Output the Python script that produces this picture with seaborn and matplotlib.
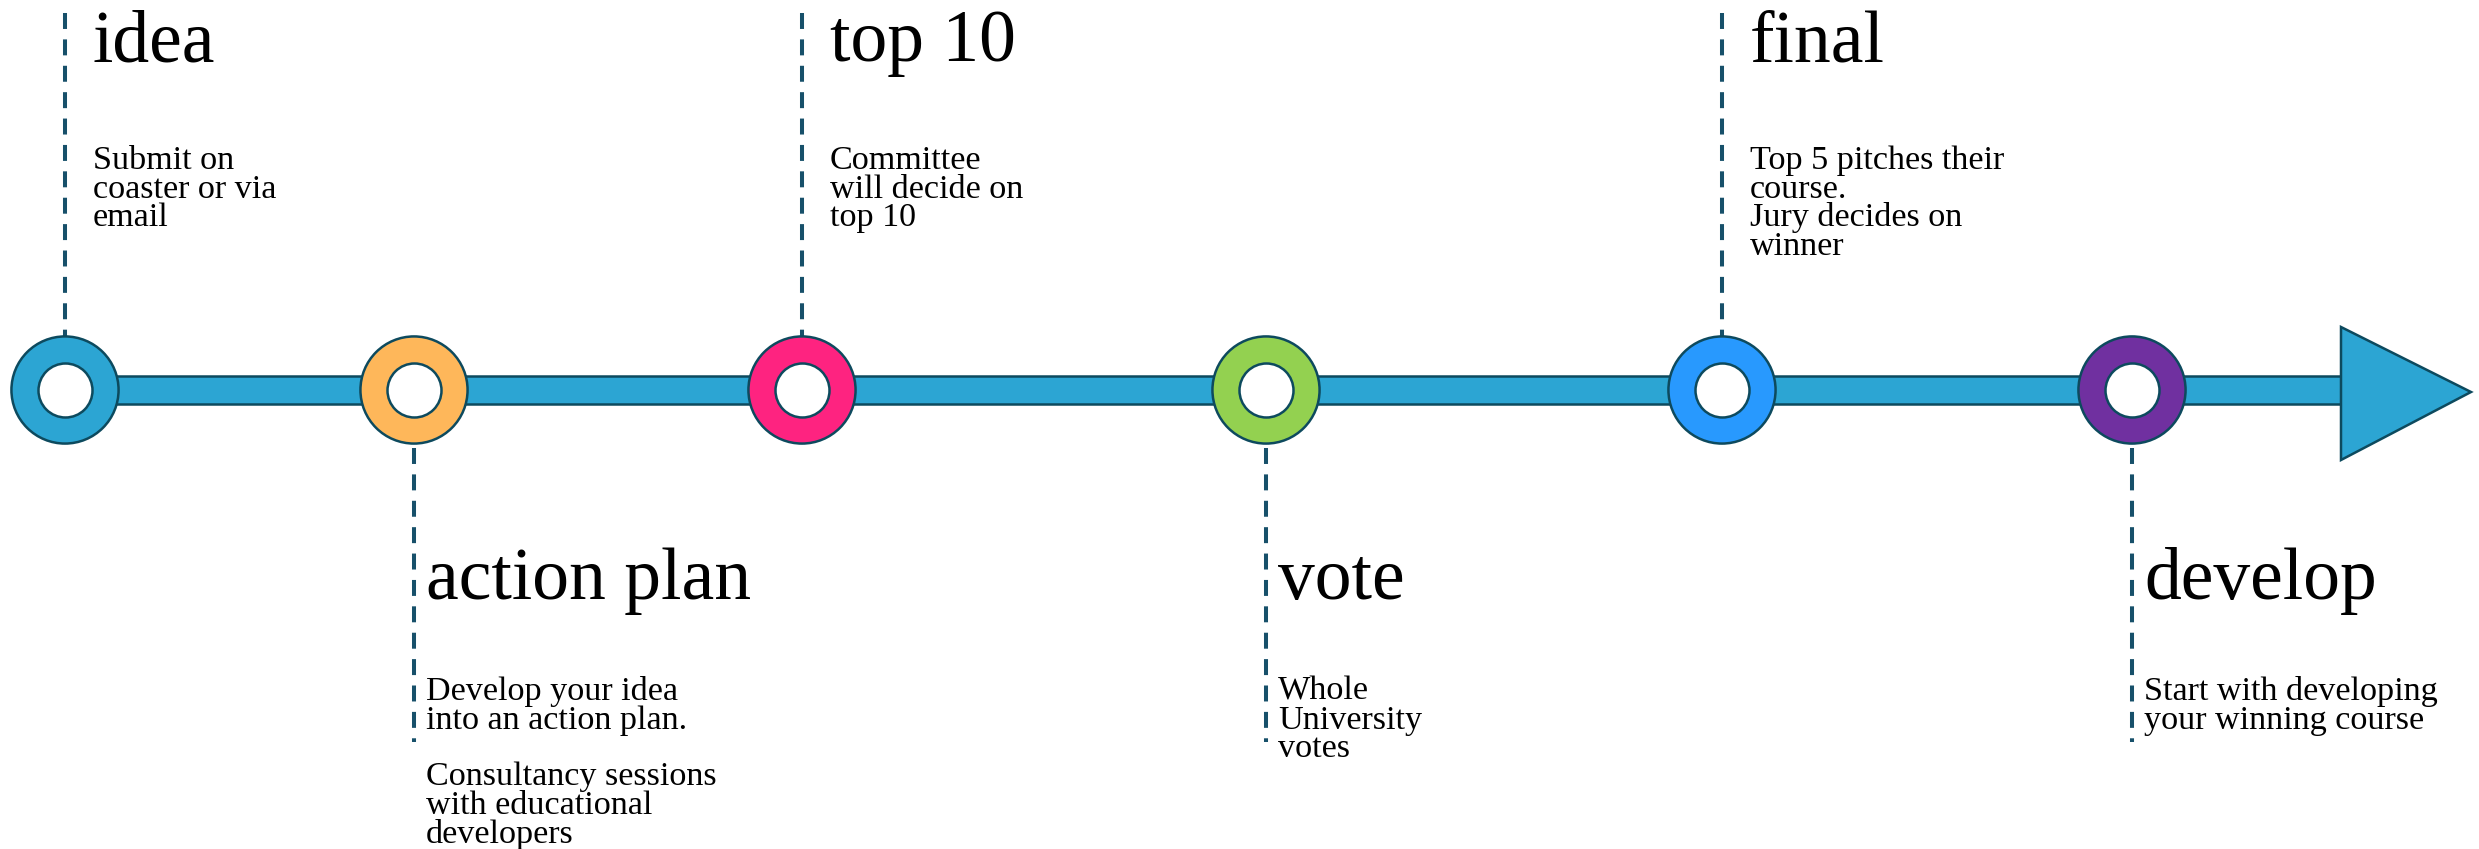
import matplotlib
matplotlib.use("Agg")
import matplotlib.pyplot as plt
import seaborn as sns
import pandas as pd
from matplotlib.patches import Rectangle, Polygon

# milestones along the timeline (x position in px of a 2479 wide canvas)
stages = ['idea', 'action plan', 'top 10', 'vote', 'final', 'develop']
positions = [65, 414, 802, 1266, 1722, 2132]
sides = ['top', 'bottom', 'top', 'bottom', 'top', 'bottom']
descriptions = [
    'Submit on\ncoaster or via\nemail',
    'Develop your idea\ninto an action plan.\n\nConsultancy sessions\nwith educational\ndevelopers',
    'Committee\nwill decide on\ntop 10',
    'Whole\nUniversity\nvotes',
    'Top 5 pitches their\ncourse.\nJury decides on\nwinner',
    'Start with developing\nyour winning course',
]
ring_colors = ['#2CA5D3', '#FEB75A', '#FE2380', '#93D150', '#2899FE', '#7030A0']

W, H = 2479, 849
LINE_Y = 390
EDGE = '#0D4A5E'
DASH = '#17506A'
BAR = '#2CA5D3'
LINE_STEP = 28.5

sns.set_theme(style='white')
plt.rcParams['font.family'] = ['Liberation Serif', 'DejaVu Serif']
plt.rcParams['lines.scale_dashes'] = False

fig = plt.figure(figsize=(W / 100, H / 100), dpi=100)
ax = fig.add_axes([0, 0, 1, 1])

df = pd.DataFrame({'stage': stages, 'x': positions, 'y': LINE_Y, 'side': sides})

# main bar and arrow head
ax.add_patch(Rectangle((positions[0], LINE_Y - 14), 2341 - positions[0], 28,
                       facecolor=BAR, edgecolor=EDGE, lw=1.8, zorder=1))
ax.add_patch(Polygon([(2341, LINE_Y - 63), (2471, LINE_Y + 2), (2341, LINE_Y + 70)],
                     closed=True, facecolor=BAR, edgecolor=EDGE, lw=1.8, zorder=1))

# dashed leader lines
for _, r in df.iterrows():
    if r['side'] == 'top':
        y0, y1 = 13, LINE_Y - 54
    else:
        y0, y1 = LINE_Y + 58, 742
    ax.plot([r['x'], r['x']], [y0, y1], color=DASH, lw=2.9,
            linestyle=(0, (11.5, 7.5)), zorder=0)

# rings
sns.scatterplot(data=df, x='x', y='y', hue='stage', palette=ring_colors,
                s=5950, edgecolor=EDGE, linewidth=1.8, legend=False, ax=ax, zorder=3)
sns.scatterplot(data=df, x='x', y='y', color='white',
                s=1512, edgecolor=EDGE, linewidth=1.8, legend=False, ax=ax, zorder=4)
ax.set_xlim(0, W)
ax.set_ylim(H, 0)
ax.axis('off')

# labels
for r, desc in zip(df.to_dict('records'), descriptions):
    if r['side'] == 'top':
        tx, ty, dy = r['x'] + 28, 61, 169
    else:
        tx, ty, dy = r['x'] + 12, 599, 700
    ax.text(tx, ty, r['stage'], fontsize=53, va='baseline', ha='left', color='black')
    for i, line in enumerate(desc.split('\n')):
        if line:
            ax.text(tx, dy + i * LINE_STEP, line, fontsize=24.6, va='baseline',
                    ha='left', color='black')

fig.savefig('out.png', dpi=100)
